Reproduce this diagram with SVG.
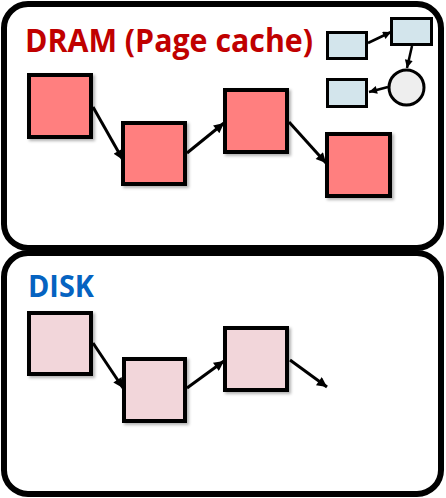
<svg xmlns="http://www.w3.org/2000/svg" width="446" height="498" viewBox="0 0 446 498">
<style>
.box{fill:#fff;stroke:#000;stroke-width:6}
.dram{fill:#FF7F7F;stroke:#000;stroke-width:4;filter:url(#sh)}
.disk{fill:#F2D6DA;stroke:#000;stroke-width:4;filter:url(#sh)}
.mini{fill:#D3E5EC;stroke:#000;stroke-width:3}
.circ{fill:#EEEEEE;stroke:#000;stroke-width:3}
.arr{stroke:#000;stroke-width:3;fill:none;marker-end:url(#ah)}
.arrs{stroke:#000;stroke-width:2.5;fill:none;marker-end:url(#ahs)}
.title{font-family:"Open Sans","Liberation Sans",sans-serif;font-weight:bold}
</style>
<defs>
<filter id="sh" x="-20%" y="-20%" width="150%" height="150%">
<feDropShadow dx="2" dy="2" stdDeviation="1.5" flood-color="#000" flood-opacity="0.3"/>
</filter>
<marker id="ah" viewBox="0 0 10 10" markerUnits="userSpaceOnUse" markerWidth="12" markerHeight="10" refX="10" refY="5" orient="auto">
<path d="M0,0 L10,5 L0,10 z" fill="#000"/>
</marker>
<marker id="ahs" viewBox="0 0 10 10" markerUnits="userSpaceOnUse" markerWidth="9" markerHeight="8" refX="10" refY="5" orient="auto">
<path d="M0,0 L10,5 L0,10 z" fill="#000"/>
</marker>
</defs>
<g id="dram-box">
<rect class="box" x="4" y="4" width="437" height="244" rx="24"/>
<text class="title" x="25" y="52" font-size="33" fill="#C00000" textLength="288" lengthAdjust="spacingAndGlyphs">DRAM (Page cache)</text>
</g>
<g id="disk-box">
<rect class="box" x="4" y="253" width="437" height="241" rx="24"/>
<text class="title" x="28" y="297" font-size="30" fill="#0563C1" textLength="66" lengthAdjust="spacingAndGlyphs">DISK</text>
</g>
<g id="dram-page1"><rect class="dram" x="29" y="75" width="62" height="62"/></g>
<g id="dram-page2"><rect class="dram" x="123" y="123" width="62" height="61"/></g>
<g id="dram-page3"><rect class="dram" x="225" y="90" width="62" height="62"/></g>
<g id="dram-page4"><rect class="dram" x="327" y="134" width="63" height="62"/></g>
<g id="disk-page1"><rect class="disk" x="29" y="313" width="62" height="61"/></g>
<g id="disk-page2"><rect class="disk" x="124" y="359" width="61" height="62"/></g>
<g id="disk-page3"><rect class="disk" x="225" y="328" width="62" height="62"/></g>
<g id="mini-rect1"><rect class="mini" x="327.5" y="32.5" width="39" height="26"/></g>
<g id="mini-rect2"><rect class="mini" x="391.5" y="18.5" width="40" height="26"/></g>
<g id="mini-rect3"><rect class="mini" x="327.5" y="79.5" width="39" height="27"/></g>
<g id="mini-circle"><circle class="circ" cx="406.5" cy="87.5" r="17.5"/></g>
<g id="connectors">
<line class="arr" x1="93" y1="107" x2="123" y2="160"/>
<line class="arr" x1="187" y1="153" x2="224" y2="123"/>
<line class="arr" x1="289" y1="122" x2="326" y2="163"/>
<line class="arr" x1="93" y1="343" x2="123" y2="388"/>
<line class="arr" x1="187" y1="388" x2="224" y2="361"/>
<line class="arr" x1="290" y1="360" x2="327" y2="387"/>
<line class="arrs" x1="368" y1="43" x2="391" y2="32"/>
<line class="arrs" x1="412" y1="46" x2="407" y2="68"/>
<line class="arrs" x1="388" y1="87" x2="369" y2="92"/>
</g>
</svg>
